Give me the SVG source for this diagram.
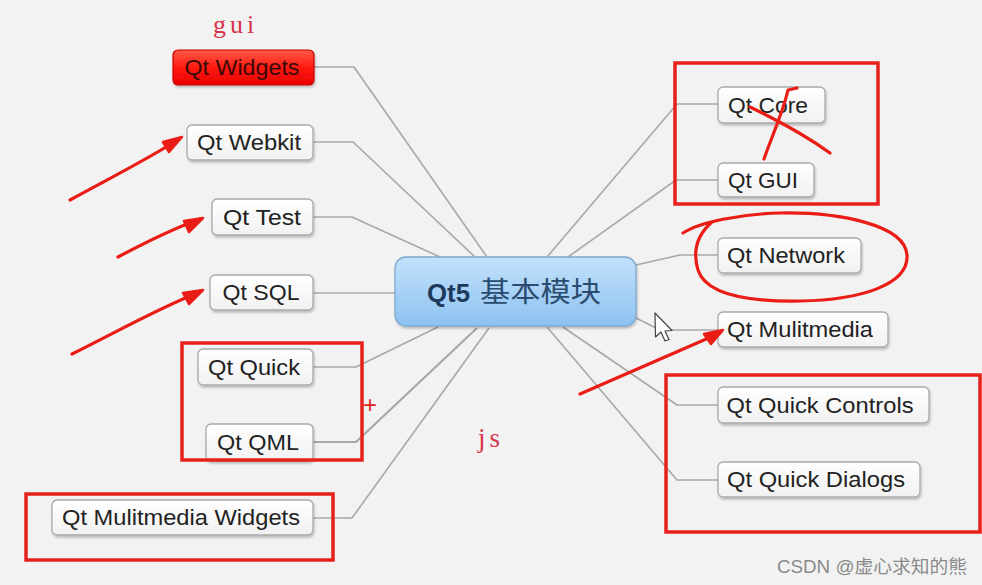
<svg xmlns="http://www.w3.org/2000/svg" width="982" height="585" viewBox="0 0 982 585">
<defs>
<linearGradient id="gNode" x1="0" y1="0" x2="0" y2="1">
<stop offset="0" stop-color="#ffffff"/><stop offset="1" stop-color="#f1f1f1"/>
</linearGradient>
<linearGradient id="gRed" x1="0" y1="0" x2="0" y2="1">
<stop offset="0" stop-color="#ff5a48"/><stop offset="0.5" stop-color="#ff1a10"/><stop offset="1" stop-color="#e80000"/>
</linearGradient>
<linearGradient id="gBlue" x1="0" y1="0" x2="0" y2="1">
<stop offset="0" stop-color="#c3e1fb"/><stop offset="1" stop-color="#8cc2f1"/>
</linearGradient>
<filter id="sh" x="-10%" y="-20%" width="120%" height="150%">
<feDropShadow dx="1" dy="2" stdDeviation="1.2" flood-color="#000" flood-opacity="0.22"/>
</filter>
</defs>
<style>
.node{fill:url(#gNode);stroke:#a9a9a9;stroke-width:1.3}
.lbl{font-family:"Liberation Sans",Arial,sans-serif;font-size:22px;fill:#222;text-anchor:middle}
.con{fill:none;stroke:#a8a8a8;stroke-width:1.6;stroke-linejoin:round}
.box{fill:none;stroke:#e8201c;stroke-width:3.5}
.pen{fill:none;stroke:#ea1d16;stroke-width:3.2;stroke-linecap:round;stroke-linejoin:round}
.head{fill:#ea1d16;stroke:#ea1d16;stroke-width:2.5;stroke-linejoin:round}
.note{font-family:"Liberation Serif","Times New Roman",serif;fill:#d8344c}
</style>
<rect width="982" height="585" fill="#f2f2f2"/>

<g id="connectors">
<path class="con" d="M313,67 L354,67 L487,257"/>
<path class="con" d="M313,142 L353,142 L475,257"/>
<path class="con" d="M313,217 L352,217 L440,257"/>
<path class="con" d="M313,293 L395,293"/>
<path class="con" d="M313,367 L356,367 L438,327"/>
<path class="con" d="M313,442 L356,442 L477,328" style="stroke-width:2.2"/>
<path class="con" d="M313,518 L352,518 L489,328"/>
<path class="con" d="M547,257 L677,104 L718,104"/>
<path class="con" d="M568,257 L676,180 L718,180"/>
<path class="con" d="M636,265 L680,255 L718,255"/>
<path class="con" d="M634,317 L660,330 L718,330"/>
<path class="con" d="M563,327 L677,405 L718,405"/>
<path class="con" d="M547,327 L677,480 L718,480"/>
</g>

<g id="center">
<rect x="395" y="257" width="241" height="69" rx="11" fill="url(#gBlue)" stroke="#7ea9cf" stroke-width="1.3" filter="url(#sh)"/>
<text x="427" y="302" font-family="'Liberation Sans',Arial,sans-serif" font-size="25" font-weight="bold" fill="#1d3a5c" textLength="43" lengthAdjust="spacingAndGlyphs">Qt5</text>
<text x="480" y="302" font-family="'Noto Sans CJK SC','Noto Sans',sans-serif" font-size="28" fill="#2b4c70" textLength="121" lengthAdjust="spacingAndGlyphs">基本模块</text>
</g>

<g id="n-widgets">
<rect x="173" y="50" width="141" height="35" rx="5" fill="url(#gRed)" stroke="#c80000" stroke-width="1.2" filter="url(#sh)"/>
<text class="lbl" x="242" y="75" style="fill:#3a0a08" textLength="115" lengthAdjust="spacingAndGlyphs">Qt Widgets</text>
</g>
<g id="n-webkit">
<rect class="node" x="187" y="125" width="126" height="35" rx="5" filter="url(#sh)"/>
<text class="lbl" x="249" y="150" textLength="104" lengthAdjust="spacingAndGlyphs">Qt Webkit</text>
</g>
<g id="n-test">
<rect class="node" x="212" y="199" width="101" height="36" rx="5" filter="url(#sh)"/>
<text class="lbl" x="262" y="225" textLength="78" lengthAdjust="spacingAndGlyphs">Qt Test</text>
</g>
<g id="n-sql">
<rect class="node" x="210" y="275" width="103" height="35" rx="5" filter="url(#sh)"/>
<text class="lbl" x="261" y="300" textLength="77" lengthAdjust="spacingAndGlyphs">Qt SQL</text>
</g>
<g id="n-quick">
<rect class="node" x="198" y="349" width="115" height="36" rx="5" filter="url(#sh)"/>
<text class="lbl" x="254" y="375" textLength="92" lengthAdjust="spacingAndGlyphs">Qt Quick</text>
</g>
<g id="n-qml">
<rect class="node" x="206" y="424" width="107" height="37" rx="5" filter="url(#sh)"/>
<text class="lbl" x="258" y="450" textLength="82" lengthAdjust="spacingAndGlyphs">Qt QML</text>
</g>
<g id="n-mmwidgets">
<rect class="node" x="52" y="500" width="261" height="35" rx="5" filter="url(#sh)"/>
<text class="lbl" x="181" y="525" textLength="238" lengthAdjust="spacingAndGlyphs">Qt Mulitmedia Widgets</text>
</g>

<g id="n-core">
<rect class="node" x="718" y="87" width="107" height="36" rx="5" filter="url(#sh)"/>
<text class="lbl" x="768" y="113" textLength="80" lengthAdjust="spacingAndGlyphs">Qt Core</text>
</g>
<g id="n-gui">
<rect class="node" x="718" y="163" width="96" height="34" rx="5" filter="url(#sh)"/>
<text class="lbl" x="763" y="188" textLength="70" lengthAdjust="spacingAndGlyphs">Qt GUI</text>
</g>
<g id="n-network">
<rect class="node" x="718" y="238" width="143" height="35" rx="5" filter="url(#sh)"/>
<text class="lbl" x="786" y="263" textLength="118" lengthAdjust="spacingAndGlyphs">Qt Network</text>
</g>
<g id="n-multimedia">
<rect class="node" x="718" y="312" width="170" height="35" rx="5" filter="url(#sh)"/>
<text class="lbl" x="800" y="337" textLength="146" lengthAdjust="spacingAndGlyphs">Qt Mulitmedia</text>
</g>
<g id="n-quickcontrols">
<rect class="node" x="718" y="387" width="211" height="36" rx="5" filter="url(#sh)"/>
<text class="lbl" x="820" y="413" textLength="187" lengthAdjust="spacingAndGlyphs">Qt Quick Controls</text>
</g>
<g id="n-quickdialogs">
<rect class="node" x="718" y="462" width="202" height="35" rx="5" filter="url(#sh)"/>
<text class="lbl" x="816" y="487" textLength="178" lengthAdjust="spacingAndGlyphs">Qt Quick Dialogs</text>
</g>

<g id="annotations">
<text class="note" x="213" y="33" font-size="26" letter-spacing="4">gui</text>
<text class="note" x="478" y="447" font-size="27" letter-spacing="4">js</text>
<text x="363" y="413" font-family="'Liberation Sans',Arial,sans-serif" font-size="24" fill="#e02020">+</text>
<rect class="box" x="675" y="63" width="203" height="141"/>
<rect class="box" x="182" y="343" width="180" height="117"/>
<rect class="box" x="26" y="494" width="307" height="66"/>
<rect class="box" x="666" y="375" width="314" height="157"/>
<path class="pen" d="M750,107 C775,119 805,135 830,153"/>
<path class="pen" d="M797,88 L788,90 C783,112 772,136 764,159"/>
<path class="pen" d="M683,233 C700,222 740,214 780,213 C840,212 905,225 907,255 C909,285 860,300 800,301 C740,302 705,292 698,270 C692,250 697,235 712,222"/>
<path class="pen" d="M70,200 C110,178 150,158 179,139"/>
<path class="head" d="M163,142 L182,137 L169,152 Z"/>
<path class="pen" d="M118,257 C150,240 175,228 200,219"/>
<path class="head" d="M184,221 L203,218 L189,232 Z"/>
<path class="pen" d="M72,354 C120,330 165,305 200,292"/>
<path class="head" d="M183,293 L203,290 L189,304 Z"/>
<path class="pen" d="M580,394 C630,372 680,350 720,333"/>
<path class="head" d="M704,334 L723,330 L711,344 Z"/>
<path d="M655,313 L655.5,337 L661,332 L665,341 L669,339.5 L665,331 L672,330.5 Z" fill="#fff" stroke="#444" stroke-width="1.2" stroke-linejoin="round"/>
<text x="777" y="573" font-family="'Liberation Sans','Noto Sans CJK SC',sans-serif" font-size="18" fill="#8a8a8a" textLength="190" lengthAdjust="spacingAndGlyphs">CSDN @虚心求知的熊</text>
</g>
</svg>
